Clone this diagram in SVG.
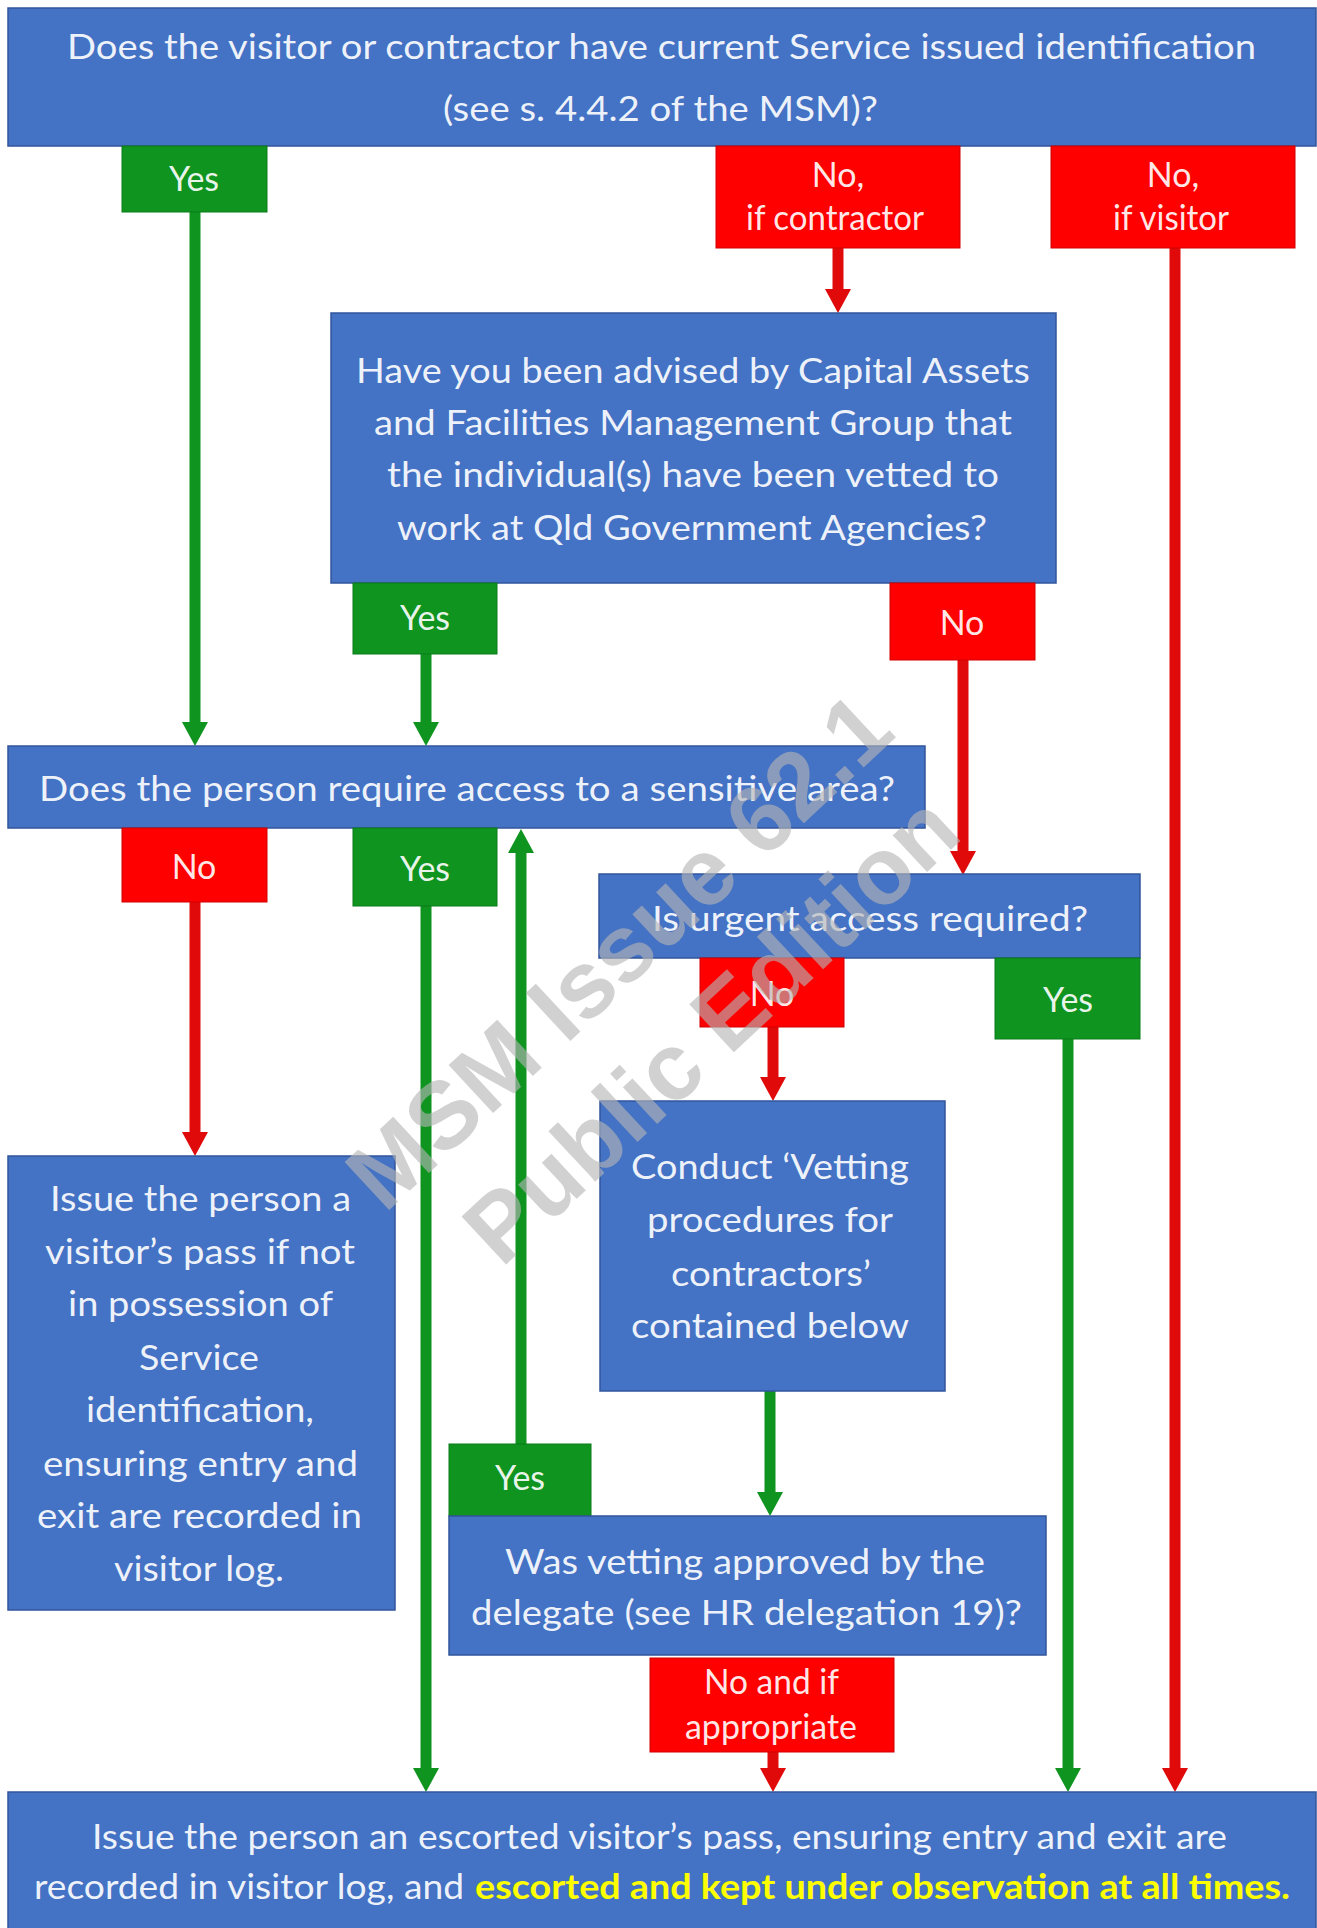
<svg xmlns="http://www.w3.org/2000/svg" width="1317" height="1928" viewBox="0 0 1317 1928">
<style>
.blue{fill:#4472C4;stroke:#31569A;stroke-width:1.5}
.green{fill:#0F9420;stroke:#0B7A19;stroke-width:1}
.red{fill:#FF0000;stroke:#D00000;stroke-width:1}
text{font-family:Lato,"Liberation Sans",sans-serif;font-size:34px;fill:#fff;fill-opacity:.92}
.c{text-anchor:middle}
.g{stroke:#0F9420;stroke-width:11;fill:none}
.r{stroke:#E00A0A;stroke-width:11;fill:none}
.y{fill:#FFFF00;font-weight:bold;fill-opacity:1}
.wm{font-family:"Liberation Sans",Arial,sans-serif;font-weight:bold;font-size:95px;fill:#b4b4b4;fill-opacity:.62;text-anchor:middle}
</style>
<defs>
<marker id="ag" viewBox="0 0 24 26" refX="2" refY="13" markerWidth="24" markerHeight="26" markerUnits="userSpaceOnUse" orient="auto"><path d="M0,0 L24,13 L0,26 z" fill="#0F9420"/></marker>
<marker id="ar" viewBox="0 0 24 26" refX="2" refY="13" markerWidth="24" markerHeight="26" markerUnits="userSpaceOnUse" orient="auto"><path d="M0,0 L24,13 L0,26 z" fill="#E00A0A"/></marker>
</defs>
<rect width="1317" height="1928" fill="#fff"/>

<g id="connectors">
<path class="g" d="M195,212 V724" marker-end="url(#ag)"/>
<path class="r" d="M838,248 V291" marker-end="url(#ar)"/>
<path class="r" d="M1175,248 V1770" marker-end="url(#ar)"/>
<path class="g" d="M426,654 V724" marker-end="url(#ag)"/>
<path class="r" d="M963,660 V853" marker-end="url(#ar)"/>
<path class="r" d="M195,902 V1134" marker-end="url(#ar)"/>
<path class="g" d="M426,906 V1770" marker-end="url(#ag)"/>
<path class="g" d="M521,1444 V851" marker-end="url(#ag)"/>
<path class="r" d="M773,1027 V1079" marker-end="url(#ar)"/>
<path class="g" d="M1068,1039 V1770" marker-end="url(#ag)"/>
<path class="g" d="M770,1391 V1494" marker-end="url(#ag)"/>
<path class="r" d="M773,1752 V1770" marker-end="url(#ar)"/>
</g>

<g id="q-identification">
<rect class="blue" x="8" y="8" width="1308" height="138"/>
<text x="67" y="59" textLength="1189" lengthAdjust="spacingAndGlyphs">Does the visitor or contractor have current Service issued identification</text>
<text x="443" y="121" textLength="435" lengthAdjust="spacingAndGlyphs">(see s. 4.4.2 of the MSM)?</text>
</g>
<g id="l-yes1">
<rect class="green" x="122" y="146" width="145" height="66"/>
<text class="c" x="194" y="191">Yes</text>
</g>
<g id="l-no-contractor">
<rect class="red" x="716" y="146" width="244" height="102"/>
<text class="c" x="838" y="187">No,</text>
<text x="746" y="230" textLength="178" lengthAdjust="spacingAndGlyphs">if contractor</text>
</g>
<g id="l-no-visitor">
<rect class="red" x="1051" y="146" width="244" height="102"/>
<text class="c" x="1173" y="187">No,</text>
<text x="1113" y="230" textLength="116" lengthAdjust="spacingAndGlyphs">if visitor</text>
</g>

<g id="q-vetted">
<rect class="blue" x="331" y="313" width="725" height="270"/>
<text x="356" y="383" textLength="674" lengthAdjust="spacingAndGlyphs">Have you been advised by Capital Assets</text>
<text x="374" y="435" textLength="638" lengthAdjust="spacingAndGlyphs">and Facilities Management Group that</text>
<text x="387" y="487" textLength="612" lengthAdjust="spacingAndGlyphs">the individual(s) have been vetted to</text>
<text x="397" y="540" textLength="590" lengthAdjust="spacingAndGlyphs">work at Qld Government Agencies?</text>
</g>
<g id="l-yes2">
<rect class="green" x="353" y="583" width="144" height="71"/>
<text class="c" x="425" y="630">Yes</text>
</g>
<g id="l-no2">
<rect class="red" x="890" y="583" width="145" height="77"/>
<text class="c" x="962" y="635">No</text>
</g>

<g id="q-sensitive">
<rect class="blue" x="8" y="746" width="917" height="82"/>
<text x="39" y="801" textLength="856" lengthAdjust="spacingAndGlyphs">Does the person require access to a sensitive area?</text>
</g>
<g id="l-no3">
<rect class="red" x="122" y="828" width="145" height="74"/>
<text class="c" x="194" y="879">No</text>
</g>
<g id="l-yes3">
<rect class="green" x="353" y="828" width="144" height="78"/>
<text class="c" x="425" y="881">Yes</text>
</g>

<g id="q-urgent">
<rect class="blue" x="599" y="874" width="541" height="84"/>
<text x="652" y="931" textLength="436" lengthAdjust="spacingAndGlyphs">Is urgent access required?</text>
</g>
<g id="l-no4">
<rect class="red" x="700" y="958" width="144" height="69"/>
<text class="c" x="772" y="1006">No</text>
</g>
<g id="l-yes4">
<rect class="green" x="995" y="958" width="145" height="81"/>
<text class="c" x="1068" y="1012">Yes</text>
</g>

<g id="a-visitor-pass">
<rect class="blue" x="8" y="1156" width="387" height="454"/>
<text x="50" y="1211" textLength="301" lengthAdjust="spacingAndGlyphs">Issue the person a</text>
<text x="45" y="1264" textLength="310" lengthAdjust="spacingAndGlyphs">visitor’s pass if not</text>
<text x="68" y="1316" textLength="265" lengthAdjust="spacingAndGlyphs">in possession of</text>
<text x="139" y="1370" textLength="120" lengthAdjust="spacingAndGlyphs">Service</text>
<text x="86" y="1422" textLength="228" lengthAdjust="spacingAndGlyphs">identification,</text>
<text x="43" y="1476" textLength="315" lengthAdjust="spacingAndGlyphs">ensuring entry and</text>
<text x="37" y="1528" textLength="325" lengthAdjust="spacingAndGlyphs">exit are recorded in</text>
<text x="114" y="1581" textLength="170" lengthAdjust="spacingAndGlyphs">visitor log.</text>
</g>

<g id="a-conduct">
<rect class="blue" x="600" y="1101" width="345" height="290"/>
<text x="631" y="1179" textLength="278" lengthAdjust="spacingAndGlyphs">Conduct ‘Vetting</text>
<text x="647" y="1232" textLength="246" lengthAdjust="spacingAndGlyphs">procedures for</text>
<text x="671" y="1286" textLength="200" lengthAdjust="spacingAndGlyphs">contractors’</text>
<text x="631" y="1338" textLength="278" lengthAdjust="spacingAndGlyphs">contained below</text>
</g>

<g id="l-yes5">
<rect class="green" x="449" y="1444" width="142" height="72"/>
<text class="c" x="520" y="1490">Yes</text>
</g>
<g id="q-approved">
<rect class="blue" x="449" y="1516" width="597" height="139"/>
<text x="505" y="1574" textLength="480" lengthAdjust="spacingAndGlyphs">Was vetting approved by the</text>
<text x="471" y="1625" textLength="551" lengthAdjust="spacingAndGlyphs">delegate (see HR delegation 19)?</text>
</g>
<g id="l-no-appropriate">
<rect class="red" x="650" y="1658" width="244" height="94"/>
<text x="704" y="1694" textLength="135" lengthAdjust="spacingAndGlyphs">No and if</text>
<text x="685" y="1739" textLength="172" lengthAdjust="spacingAndGlyphs">appropriate</text>
</g>

<g id="a-escorted">
<rect class="blue" x="8" y="1792" width="1308" height="140"/>
<text x="92" y="1849" textLength="1135" lengthAdjust="spacingAndGlyphs">Issue the person an escorted visitor’s pass, ensuring entry and exit are</text>
<text x="34" y="1899" textLength="430" lengthAdjust="spacingAndGlyphs">recorded in visitor log, and</text>
<text class="y" x="475" y="1899" textLength="815" lengthAdjust="spacingAndGlyphs">escorted and kept under observation at all times.</text>
</g>

<g id="watermark">
<text class="wm" transform="translate(618,950) rotate(-43)" y="34">MSM Issue 62.1</text>
<text class="wm" transform="translate(710,1028) rotate(-43)" y="34">Public Edition</text>
</g>
</svg>
